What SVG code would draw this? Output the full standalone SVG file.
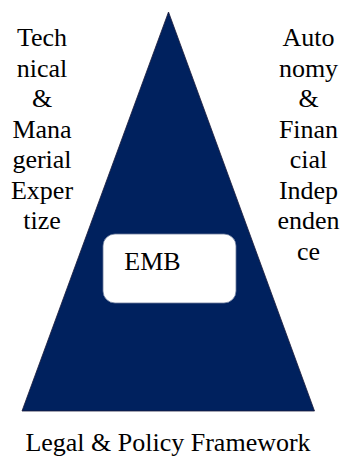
<svg xmlns="http://www.w3.org/2000/svg" width="345" height="459" viewBox="0 0 345 459">
<style>
text{font-family:'Liberation Serif','Times New Roman',serif;font-size:26px;fill:#000;text-anchor:middle}
</style>
<rect width="345" height="459" fill="#fff"/>
<g id="pyramid">
<polygon points="168.5,12 22,411 314.5,411" fill="#00215e" stroke="#1a1a3a" stroke-width="0.8"/>
</g>
<g id="emb">
<rect x="103" y="234" width="133" height="69" rx="12" ry="12" fill="#fff" stroke="#6a7a9a" stroke-width="0.8"/>
<text x="152.5" y="270">EMB</text>
</g>
<g id="left-label">
<text x="42" y="46">Tech</text>
<text x="42" y="76.5">nical</text>
<text x="42" y="107">&amp;</text>
<text x="42" y="137.5">Mana</text>
<text x="42" y="168">gerial</text>
<text x="42" y="198.5">Exper</text>
<text x="42" y="229">tize</text>
</g>
<g id="right-label">
<text x="308.5" y="46">Auto</text>
<text x="308.5" y="76.5">nomy</text>
<text x="308.5" y="107">&amp;</text>
<text x="308.5" y="137.5">Finan</text>
<text x="308.5" y="168">cial</text>
<text x="308.5" y="198.5">Indep</text>
<text x="308.5" y="229">enden</text>
<text x="308.5" y="259.5">ce</text>
</g>
<g id="base-label">
<text x="168" y="451">Legal &amp; Policy Framework</text>
</g>
<g id="connectors"></g>
</svg>
